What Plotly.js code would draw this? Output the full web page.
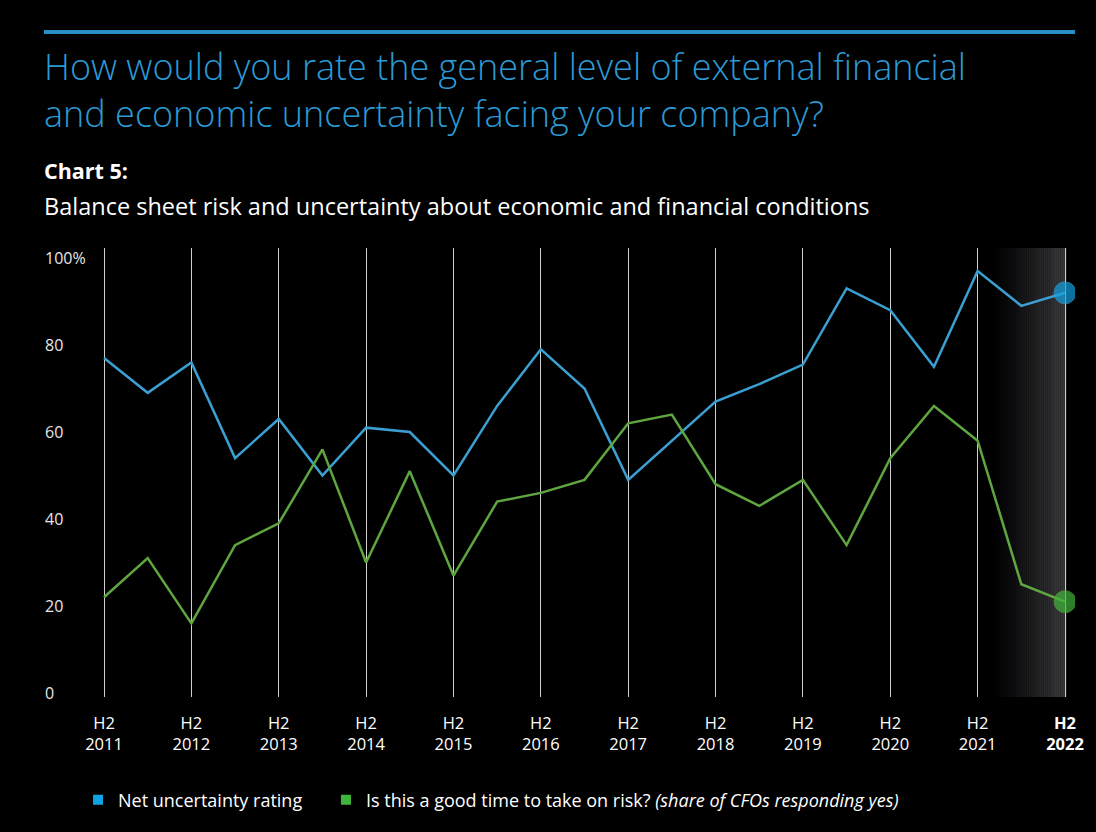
<!DOCTYPE html>
<html>
<head>
<meta charset="utf-8">
<script src="https://cdn.plot.ly/plotly-3.0.1.min.js"></script>
<style>
  html, body { margin: 0; padding: 0; background: #000; }
  #chart { width: 1096px; height: 832px; }
</style>
</head>
<body>
<div id="chart"></div>
<script>
// ---- data ----
const periods = [
  "H2 2011", "H1 2012", "H2 2012", "H1 2013", "H2 2013", "H1 2014", "H2 2014",
  "H1 2015", "H2 2015", "H1 2016", "H2 2016", "H1 2017", "H2 2017", "H1 2018",
  "H2 2018", "H1 2019", "H2 2019", "H1 2020", "H2 2020", "H1 2021", "H2 2021",
  "H1 2022", "H2 2022"
];
const netUncertainty = [77, 69, 76, 54, 63, 50, 61, 60, 50, 66, 79, 70, 49, 58, 67, 71, 75.5, 93, 88, 75, 97, 89, 92];
const goodTimeForRisk = [22, 31, 16, 34, 39, 56, 30, 51, 27, 44, 46, 49, 62, 64, 48, 43, 49, 34, 54, 66, 58, 25, 21];
const tickPeriods = ["H2 2011", "H2 2012", "H2 2013", "H2 2014", "H2 2015", "H2 2016", "H2 2017", "H2 2018", "H2 2019", "H2 2020", "H2 2021", "H2 2022"];
const tickLabels = ["H2<br>2011", "H2<br>2012", "H2<br>2013", "H2<br>2014", "H2<br>2015", "H2<br>2016", "H2<br>2017", "H2<br>2018", "H2<br>2019", "H2<br>2020", "H2<br>2021", "<b>H2<br>2022</b>"];
const yTickVals = [0, 20, 40, 60, 80, 100];
const yTickText = ["0", "20", "40", "60", "80", "100%"];
const seriesNames = ["Net uncertainty rating", "Is this a good time to take on risk? <i>(share of CFOs responding yes)</i>"];

// ---- styles ----
const BLUE_LINE = "#3b9fd1";
const GREEN_LINE = "#5fa640";
const BLUE_DOT = "#10a3e3";
const GREEN_DOT = "#3fb63a";
const FONT = "Open Sans, Noto Sans, sans-serif";

function endMarker(n, size) {
  return periods.map((p, i) => (i === n - 1 ? size : 0));
}

const traces = [
  {
    x: periods, y: netUncertainty, type: "scatter", mode: "lines+markers",
    line: { color: BLUE_LINE, width: 2.5 },
    marker: { color: BLUE_DOT, size: endMarker(periods.length, 22) },
    showlegend: false, hoverinfo: "x+y"
  },
  {
    x: periods, y: goodTimeForRisk, type: "scatter", mode: "lines+markers",
    line: { color: GREEN_LINE, width: 2.5 },
    marker: { color: GREEN_DOT, size: endMarker(periods.length, 22) },
    showlegend: false, hoverinfo: "x+y"
  },
  {
    x: [null], y: [null], type: "scatter", mode: "markers", name: seriesNames[0],
    marker: { color: BLUE_DOT, symbol: "square", size: 10 }, legend: "legend"
  },
  {
    x: [null], y: [null], type: "scatter", mode: "markers", name: seriesNames[1],
    marker: { color: GREEN_DOT, symbol: "square", size: 10 }, legend: "legend2"
  }
];

// gradient band behind the latest half-year (H1 2022 -> H2 2022)
const shapes = [];
const gStart = 20.3, gEnd = 22.03, steps = 40;
for (let i = 0; i < steps; i++) {
  const t = (i + 0.5) / steps;
  const c = Math.round(60 * Math.pow(t, 1.2));
  shapes.push({
    type: "rect", xref: "x", yref: "paper", layer: "below",
    x0: gStart + (gEnd - gStart) * i / steps,
    x1: gStart + (gEnd - gStart) * (i + 1) / steps + 0.002,
    y0: 0, y1: 1,
    fillcolor: `rgb(${c},${c},${c + 2})`, line: { width: 0 }
  });
}
// top rule
shapes.push({
  type: "line", xref: "paper", yref: "paper",
  x0: 0, x1: 1, y0: 1.481, y1: 1.481,
  line: { color: "#2a8fc8", width: 4 }
});

const legendBase = {
  orientation: "h", xanchor: "left", y: (697 - 800) / 449, yanchor: "middle",
  font: { family: FONT, size: 18, color: "#ffffff" },
  itemwidth: 30, bgcolor: "rgba(0,0,0,0)"
};

const layout = {
  width: 1096, height: 832,
  paper_bgcolor: "#000", plot_bgcolor: "rgba(0,0,0,0)",
  margin: { l: 44, r: 21, t: 248, b: 135 },
  font: { family: FONT, color: "#ffffff" },
  title: {
    text: "How would you rate the general level of external financial<br>and economic uncertainty facing your company?",
    font: { family: FONT, size: 36, color: "#2b9ad5", weight: 300 },
    xref: "paper", x: 0, xanchor: "left",
    yref: "container", y: 1 - 80 / 832, yanchor: "top"
  },
  xaxis: {
    type: "category",
    categoryorder: "array", categoryarray: periods,
    range: [-1.374, 22.229],
    tickmode: "array", tickvals: tickPeriods, ticktext: tickLabels,
    showgrid: true, gridcolor: "#cfcfcf", gridwidth: 1,
    zeroline: false, showline: false, ticks: "",
    ticklabelstandoff: 14,
    tickfont: { family: FONT, size: 16.5, color: "#ffffff" },
    fixedrange: true
  },
  yaxis: {
    range: [-0.92, 102.3],
    tickmode: "array", tickvals: yTickVals, ticktext: yTickText,
    showgrid: false, zeroline: false, showline: false, ticks: "",
    ticklabelposition: "inside", ticklabeloverflow: "allow",
    ticklabelstandoff: -2,
    tickfont: { family: FONT, size: 16, color: "#e6e6e6" },
    fixedrange: true
  },
  shapes: shapes,
  annotations: [
    {
      text: "<b>Chart 5:</b>", xref: "paper", yref: "paper", x: 0, y: (697 - 171) / 449,
      xanchor: "left", yanchor: "middle", showarrow: false, xshift: -2,
      font: { family: FONT, size: 21.5, color: "#ffffff" }
    },
    {
      text: "Balance sheet risk and uncertainty about economic and financial conditions",
      xref: "paper", yref: "paper", x: 0, y: (697 - 206) / 449,
      xanchor: "left", yanchor: "middle", showarrow: false, xshift: -2,
      font: { family: FONT, size: 23.5, color: "#ffffff" }
    }
  ],
  legend: Object.assign({}, legendBase, { x: 0.033 }),
  legend2: Object.assign({}, legendBase, { x: 0.2735 }),
  showlegend: true,
  hovermode: false
};

Plotly.newPlot("chart", traces, layout, { displayModeBar: false, staticPlot: true });
</script>
</body>
</html>
